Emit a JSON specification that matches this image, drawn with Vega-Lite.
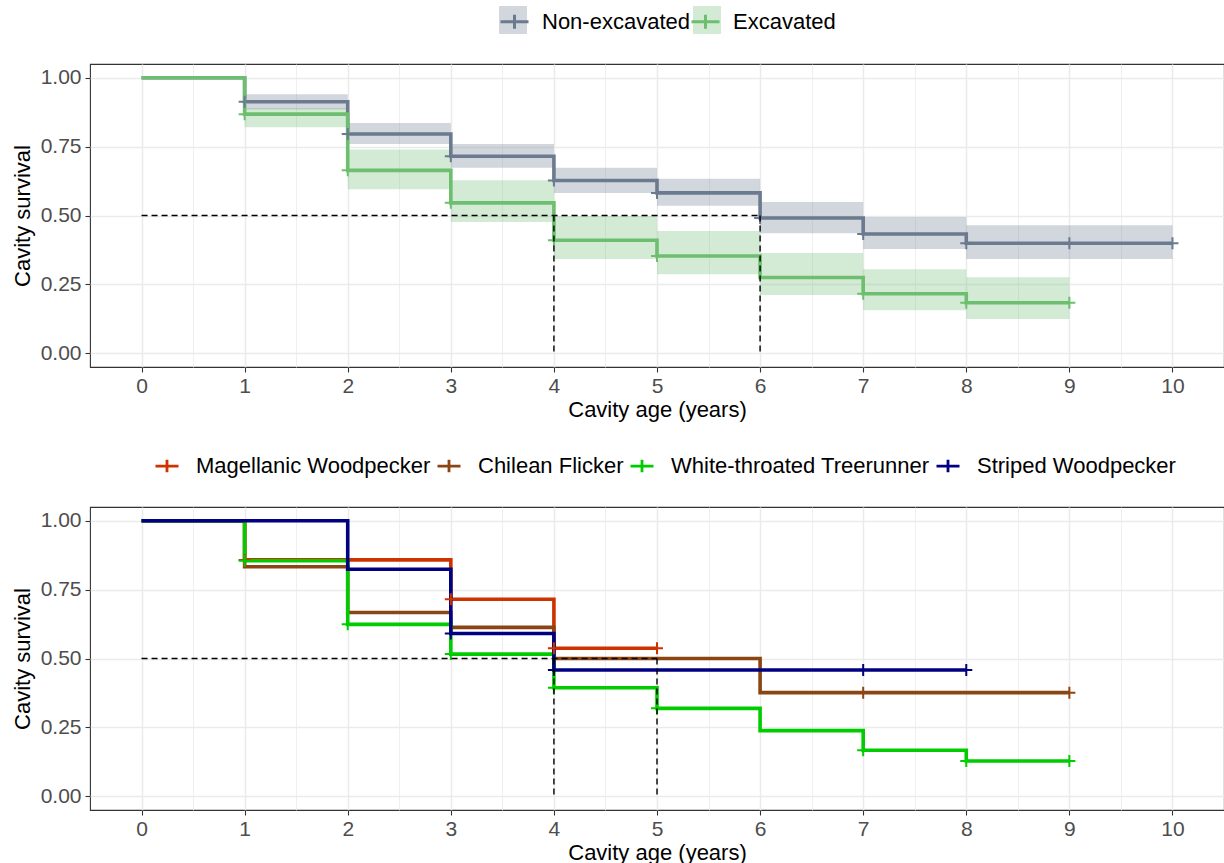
{
  "$schema": "https://vega.github.io/schema/vega-lite/v6.json",
  "padding": {"left": 10, "top": 5, "right": 1, "bottom": 0},
  "spacing": 31,
  "config": {
    "font": "Liberation Sans",
    "view": {"stroke": "#333333", "strokeWidth": 1.1},
    "axis": {
      "domain": false,
      "grid": true,
      "gridColor": "#EBEBEB",
      "tickColor": "#333333",
      "tickSize": 5,
      "tickWidth": 1.1,
      "labelColor": "#4D4D4D",
      "labelFontSize": 21,
      "labelFont": "Liberation Sans",
      "titleFont": "Liberation Sans",
      "titleFontSize": 22,
      "titleFontWeight": "normal",
      "titleColor": "#000000",
      "labelOverlap": false
    },
    "legend": {"padding": 0, "title": null}
  },
  "datasets": {
    "top_lines": [
      {"t": 0, "s": 1.0, "g": "Non-excavated"},
      {"t": 1, "s": 0.913, "g": "Non-excavated"},
      {"t": 2, "s": 0.796, "g": "Non-excavated"},
      {"t": 3, "s": 0.715, "g": "Non-excavated"},
      {"t": 4, "s": 0.627, "g": "Non-excavated"},
      {"t": 5, "s": 0.582, "g": "Non-excavated"},
      {"t": 6, "s": 0.491, "g": "Non-excavated"},
      {"t": 7, "s": 0.433, "g": "Non-excavated"},
      {"t": 8, "s": 0.399, "g": "Non-excavated"},
      {"t": 10, "s": 0.399, "g": "Non-excavated"},
      {"t": 0, "s": 1.0, "g": "Excavated"},
      {"t": 1, "s": 0.868, "g": "Excavated"},
      {"t": 2, "s": 0.664, "g": "Excavated"},
      {"t": 3, "s": 0.546, "g": "Excavated"},
      {"t": 4, "s": 0.41, "g": "Excavated"},
      {"t": 5, "s": 0.353, "g": "Excavated"},
      {"t": 6, "s": 0.275, "g": "Excavated"},
      {"t": 7, "s": 0.216, "g": "Excavated"},
      {"t": 8, "s": 0.183, "g": "Excavated"},
      {"t": 9, "s": 0.183, "g": "Excavated"}
    ],
    "top_cens": [
      {"t": 1, "s": 0.913, "g": "Non-excavated"},
      {"t": 2, "s": 0.796, "g": "Non-excavated"},
      {"t": 3, "s": 0.715, "g": "Non-excavated"},
      {"t": 4, "s": 0.627, "g": "Non-excavated"},
      {"t": 5, "s": 0.582, "g": "Non-excavated"},
      {"t": 6, "s": 0.491, "g": "Non-excavated"},
      {"t": 7, "s": 0.433, "g": "Non-excavated"},
      {"t": 8, "s": 0.399, "g": "Non-excavated"},
      {"t": 9, "s": 0.399, "g": "Non-excavated"},
      {"t": 10, "s": 0.399, "g": "Non-excavated"},
      {"t": 1, "s": 0.868, "g": "Excavated"},
      {"t": 2, "s": 0.664, "g": "Excavated"},
      {"t": 3, "s": 0.546, "g": "Excavated"},
      {"t": 4, "s": 0.41, "g": "Excavated"},
      {"t": 5, "s": 0.353, "g": "Excavated"},
      {"t": 7, "s": 0.216, "g": "Excavated"},
      {"t": 8, "s": 0.183, "g": "Excavated"},
      {"t": 9, "s": 0.183, "g": "Excavated"}
    ],
    "top_bands": [
      {"t": 0, "hi": 1.0, "lo": 1.0, "g": "Non-excavated"},
      {"t": 1, "hi": 0.94, "lo": 0.885, "g": "Non-excavated"},
      {"t": 2, "hi": 0.836, "lo": 0.76, "g": "Non-excavated"},
      {"t": 3, "hi": 0.76, "lo": 0.673, "g": "Non-excavated"},
      {"t": 4, "hi": 0.673, "lo": 0.582, "g": "Non-excavated"},
      {"t": 5, "hi": 0.633, "lo": 0.535, "g": "Non-excavated"},
      {"t": 6, "hi": 0.549, "lo": 0.436, "g": "Non-excavated"},
      {"t": 7, "hi": 0.495, "lo": 0.378, "g": "Non-excavated"},
      {"t": 8, "hi": 0.465, "lo": 0.342, "g": "Non-excavated"},
      {"t": 10, "hi": 0.465, "lo": 0.342, "g": "Non-excavated"},
      {"t": 0, "hi": 1.0, "lo": 1.0, "g": "Excavated"},
      {"t": 1, "hi": 0.89, "lo": 0.82, "g": "Excavated"},
      {"t": 2, "hi": 0.74, "lo": 0.595, "g": "Excavated"},
      {"t": 3, "hi": 0.628, "lo": 0.476, "g": "Excavated"},
      {"t": 4, "hi": 0.498, "lo": 0.342, "g": "Excavated"},
      {"t": 5, "hi": 0.444, "lo": 0.287, "g": "Excavated"},
      {"t": 6, "hi": 0.364, "lo": 0.211, "g": "Excavated"},
      {"t": 7, "hi": 0.305, "lo": 0.156, "g": "Excavated"},
      {"t": 8, "hi": 0.276, "lo": 0.124, "g": "Excavated"},
      {"t": 9, "hi": 0.276, "lo": 0.124, "g": "Excavated"}
    ],
    "top_med": [
      {"t": 0, "t2": 6, "s": 0.5, "s2": 0.5},
      {"t": 4, "t2": 4, "s": 0.5, "s2": 0},
      {"t": 6, "t2": 6, "s": 0.5, "s2": 0}
    ],
    "bot_lines": [
      {"t": 0, "s": 1.0, "g": "Magellanic Woodpecker"},
      {"t": 1, "s": 0.858, "g": "Magellanic Woodpecker"},
      {"t": 3, "s": 0.715, "g": "Magellanic Woodpecker"},
      {"t": 4, "s": 0.537, "g": "Magellanic Woodpecker"},
      {"t": 5, "s": 0.537, "g": "Magellanic Woodpecker"},
      {"t": 0, "s": 1.0, "g": "Chilean Flicker"},
      {"t": 1, "s": 0.833, "g": "Chilean Flicker"},
      {"t": 2, "s": 0.667, "g": "Chilean Flicker"},
      {"t": 3, "s": 0.613, "g": "Chilean Flicker"},
      {"t": 4, "s": 0.5, "g": "Chilean Flicker"},
      {"t": 6, "s": 0.376, "g": "Chilean Flicker"},
      {"t": 9, "s": 0.376, "g": "Chilean Flicker"},
      {"t": 0, "s": 1.0, "g": "White-throated Treerunner"},
      {"t": 1, "s": 0.855, "g": "White-throated Treerunner"},
      {"t": 2, "s": 0.624, "g": "White-throated Treerunner"},
      {"t": 3, "s": 0.516, "g": "White-throated Treerunner"},
      {"t": 4, "s": 0.394, "g": "White-throated Treerunner"},
      {"t": 5, "s": 0.319, "g": "White-throated Treerunner"},
      {"t": 6, "s": 0.238, "g": "White-throated Treerunner"},
      {"t": 7, "s": 0.167, "g": "White-throated Treerunner"},
      {"t": 8, "s": 0.128, "g": "White-throated Treerunner"},
      {"t": 9, "s": 0.128, "g": "White-throated Treerunner"},
      {"t": 0, "s": 1.0, "g": "Striped Woodpecker"},
      {"t": 2, "s": 0.824, "g": "Striped Woodpecker"},
      {"t": 3, "s": 0.591, "g": "Striped Woodpecker"},
      {"t": 4, "s": 0.458, "g": "Striped Woodpecker"},
      {"t": 8, "s": 0.458, "g": "Striped Woodpecker"}
    ],
    "bot_cens": [
      {"t": 1, "s": 0.858, "g": "Magellanic Woodpecker"},
      {"t": 3, "s": 0.715, "g": "Magellanic Woodpecker"},
      {"t": 4, "s": 0.537, "g": "Magellanic Woodpecker"},
      {"t": 5, "s": 0.537, "g": "Magellanic Woodpecker"},
      {"t": 7, "s": 0.376, "g": "Chilean Flicker"},
      {"t": 9, "s": 0.376, "g": "Chilean Flicker"},
      {"t": 1, "s": 0.855, "g": "White-throated Treerunner"},
      {"t": 2, "s": 0.624, "g": "White-throated Treerunner"},
      {"t": 3, "s": 0.516, "g": "White-throated Treerunner"},
      {"t": 4, "s": 0.394, "g": "White-throated Treerunner"},
      {"t": 5, "s": 0.319, "g": "White-throated Treerunner"},
      {"t": 7, "s": 0.167, "g": "White-throated Treerunner"},
      {"t": 8, "s": 0.128, "g": "White-throated Treerunner"},
      {"t": 9, "s": 0.128, "g": "White-throated Treerunner"},
      {"t": 3, "s": 0.591, "g": "Striped Woodpecker"},
      {"t": 4, "s": 0.458, "g": "Striped Woodpecker"},
      {"t": 7, "s": 0.458, "g": "Striped Woodpecker"},
      {"t": 8, "s": 0.458, "g": "Striped Woodpecker"}
    ],
    "bot_med": [
      {"t": 0, "t2": 5, "s": 0.5, "s2": 0.5},
      {"t": 4, "t2": 4, "s": 0.5, "s2": 0},
      {"t": 5, "t2": 5, "s": 0.5, "s2": 0}
    ]
  },
  "vconcat": [
    {
      "width": 1134,
      "height": 303,
      "layer": [
        {
          "data": {"name": "top_bands"},
          "mark": {"type": "area", "interpolate": "step-after", "fillOpacity": 0.3},
          "encoding": {
            "x": {"field": "t", "type": "quantitative", "title": "Cavity age (years)",
              "scale": {"domain": [-0.5, 10.5], "nice": false, "zero": false},
              "axis": {
                "values": [0,0.5,1,1.5,2,2.5,3,3.5,4,4.5,5,5.5,6,6.5,7,7.5,8,8.5,9,9.5,10],
                "labelExpr": "datum.value % 1 == 0 ? format(datum.value, 'd') : ''",
                "tickOpacity": {"condition": {"test": "datum.value % 1 != 0", "value": 0}, "value": 1},
                "gridWidth": {"condition": {"test": "datum.value % 1 != 0", "value": 0.8}, "value": 1.5},
                "labelPadding": 3, "titlePadding": 3
              }},
            "y": {"field": "hi", "type": "quantitative", "title": "Cavity survival", "stack": null,
              "scale": {"domain": [-0.05, 1.05], "nice": false, "zero": false},
              "axis": {
                "values": [0,0.125,0.25,0.375,0.5,0.625,0.75,0.875,1],
                "labelExpr": "(datum.value * 4) % 1 == 0 ? format(datum.value, '.2f') : ''",
                "tickOpacity": {"condition": {"test": "(datum.value * 4) % 1 != 0", "value": 0}, "value": 1},
                "gridWidth": {"condition": {"test": "(datum.value * 4) % 1 != 0", "value": 0.8}, "value": 1.5},
                "labelPadding": 4, "titlePadding": 6
              }},
            "y2": {"field": "lo"},
            "fill": {"field": "g", "type": "nominal", "sort": "descending",
              "scale": {"range": ["#6B7A8F", "#6DBE6F"]},
              "legend": {
                "orient": "none", "direction": "horizontal", "legendX": 409, "legendY": -58,
                "symbolType": "square", "symbolSize": 784, "symbolStrokeWidth": 0, "symbolOpacity": 0.3,
                "labelExpr": "''", "labelOffset": 0, "columnPadding": 166
              }}
          }
        },
        {
          "data": {"name": "top_lines"},
          "mark": {"type": "line", "interpolate": "step-after", "strokeWidth": 3.6},
          "encoding": {
            "x": {"field": "t", "type": "quantitative", "title": "Cavity age (years)"},
            "y": {"field": "s", "type": "quantitative", "title": "Cavity survival"},
            "stroke": {"field": "g", "type": "nominal",
              "scale": {"domain": ["Non-excavated", "Excavated"], "range": ["#6B7A8F", "#6DBE6F"]},
              "legend": {
                "orient": "none", "direction": "horizontal", "legendX": 409, "legendY": -58,
                "symbolType": "M-1,0H1M0,-0.5V0.5", "symbolSize": 784, "symbolStrokeWidth": 3,
                "labelFontSize": 22, "labelColor": "#000000", "labelOffset": 12, "columnPadding": -5, "labelLimit": 400
              }}
          }
        },
        {
          "data": {"name": "top_cens"},
          "mark": {"type": "point", "shape": "M-1,0H1M0,-1V1", "size": 144, "strokeWidth": 2, "filled": false, "opacity": 1},
          "encoding": {
            "x": {"field": "t", "type": "quantitative", "title": "Cavity age (years)"},
            "y": {"field": "s", "type": "quantitative", "title": "Cavity survival"},
            "stroke": {"field": "g", "type": "nominal"}
          }
        },
        {
          "data": {"name": "top_med"},
          "mark": {"type": "rule", "color": "#000000", "strokeWidth": 1.4, "strokeDash": [6, 4]},
          "encoding": {
            "x": {"field": "t", "type": "quantitative", "title": "Cavity age (years)"},
            "x2": {"field": "t2"},
            "y": {"field": "s", "type": "quantitative", "title": "Cavity survival"},
            "y2": {"field": "s2"}
          }
        }
      ]
    },
    {
      "width": 1134,
      "height": 303,
      "layer": [
        {
          "data": {"name": "bot_lines"},
          "mark": {"type": "line", "interpolate": "step-after", "strokeWidth": 3.6},
          "encoding": {
            "x": {"field": "t", "type": "quantitative", "title": "Cavity age (years)",
              "scale": {"domain": [-0.5, 10.5], "nice": false, "zero": false},
              "axis": {
                "values": [0,0.5,1,1.5,2,2.5,3,3.5,4,4.5,5,5.5,6,6.5,7,7.5,8,8.5,9,9.5,10],
                "labelExpr": "datum.value % 1 == 0 ? format(datum.value, 'd') : ''",
                "tickOpacity": {"condition": {"test": "datum.value % 1 != 0", "value": 0}, "value": 1},
                "gridWidth": {"condition": {"test": "datum.value % 1 != 0", "value": 0.8}, "value": 1.5},
                "labelPadding": 3, "titlePadding": 3
              }},
            "y": {"field": "s", "type": "quantitative", "title": "Cavity survival",
              "scale": {"domain": [-0.05, 1.05], "nice": false, "zero": false},
              "axis": {
                "values": [0,0.125,0.25,0.375,0.5,0.625,0.75,0.875,1],
                "labelExpr": "(datum.value * 4) % 1 == 0 ? format(datum.value, '.2f') : ''",
                "tickOpacity": {"condition": {"test": "(datum.value * 4) % 1 != 0", "value": 0}, "value": 1},
                "gridWidth": {"condition": {"test": "(datum.value * 4) % 1 != 0", "value": 0.8}, "value": 1.5},
                "labelPadding": 4, "titlePadding": 6
              }},
            "stroke": {"field": "g", "type": "nominal",
              "scale": {"domain": ["Magellanic Woodpecker", "Chilean Flicker", "White-throated Treerunner", "Striped Woodpecker"],
                        "range": ["#CC3300", "#8B4513", "#00CC00", "#000080"]},
              "legend": {
                "orient": "none", "direction": "horizontal", "legendX": 64, "legendY": -54,
                "symbolType": "M-1,0H1M0,-0.55V0.55", "symbolSize": 529, "symbolStrokeWidth": 2.8,
                "labelFontSize": 22, "labelColor": "#000000", "labelOffset": 16, "columnPadding": 0, "labelLimit": 400
              }}
          }
        },
        {
          "data": {"name": "bot_cens"},
          "mark": {"type": "point", "shape": "M-1,0H1M0,-1V1", "size": 144, "strokeWidth": 2, "filled": false, "opacity": 1},
          "encoding": {
            "x": {"field": "t", "type": "quantitative", "title": "Cavity age (years)"},
            "y": {"field": "s", "type": "quantitative", "title": "Cavity survival"},
            "stroke": {"field": "g", "type": "nominal"}
          }
        },
        {
          "data": {"name": "bot_med"},
          "mark": {"type": "rule", "color": "#000000", "strokeWidth": 1.4, "strokeDash": [6, 4]},
          "encoding": {
            "x": {"field": "t", "type": "quantitative", "title": "Cavity age (years)"},
            "x2": {"field": "t2"},
            "y": {"field": "s", "type": "quantitative", "title": "Cavity survival"},
            "y2": {"field": "s2"}
          }
        }
      ]
    }
  ],
  "resolve": {
    "scale": {"x": "independent", "y": "independent", "stroke": "independent", "fill": "independent"},
    "legend": {"stroke": "independent", "fill": "independent"}
  }
}
